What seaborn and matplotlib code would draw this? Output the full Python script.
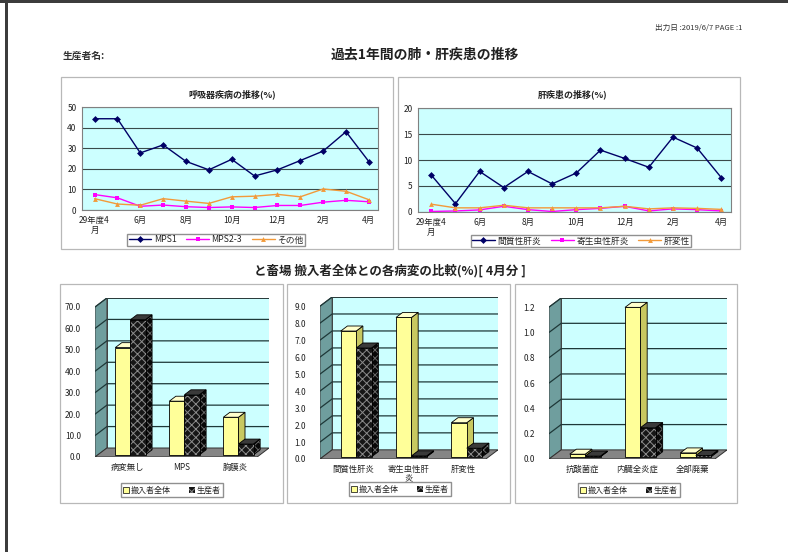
import numpy as np
import pandas as pd
import matplotlib
matplotlib.use('Agg')
import matplotlib.pyplot as plt
import seaborn as sns
from matplotlib.patches import Polygon, Rectangle, Patch
from matplotlib.lines import Line2D

# ---- data ----
MONTHS = ['29年度4\n月', '5月', '6月', '7月', '8月', '9月', '10月',
          '11月', '12月', '1月', '2月', '3月', '4月']

RESP_NAMES = ['MPS1', 'MPS2-3', 'その他']
mps1 = [44.3, 44.3, 27.7, 31.6, 23.6, 19.5, 24.6, 16.5, 19.5, 24.0, 28.6, 38.0, 23.5]
mps23 = [7.5, 5.9, 1.8, 2.4, 1.6, 1.2, 1.5, 1.2, 2.2, 2.2, 3.8, 4.7, 4.0]
other = [5.5, 2.9, 2.3, 5.5, 4.3, 3.2, 6.4, 6.7, 7.6, 6.4, 10.2, 9.1, 5.0]

LIVER_NAMES = ['間質性肝炎', '寄生虫性肝炎', '肝変性']
interstitial = [7.1, 1.6, 7.8, 4.7, 7.8, 5.4, 7.5, 11.9, 10.3, 8.6, 14.4, 12.3, 6.6]
parasitic = [0.1, 0.2, 0.4, 1.1, 0.45, 0.1, 0.45, 0.7, 1.1, 0.2, 0.6, 0.45, 0.2]
degeneration = [1.5, 0.8, 0.8, 1.3, 0.8, 0.8, 0.8, 0.8, 1.1, 0.6, 0.8, 0.7, 0.5]

GROUPS = ['搬入者全体', '生産者']

lung_cats = ['病変無し', 'MPS', '胸膜炎']
lung_all = [50.0, 25.0, 17.5]
lung_prod = [63.0, 28.0, 5.0]

liver_cats = ['間質性肝炎', '寄生虫性肝\n炎', '肝変性']
liver_all = [7.4, 8.2, 2.0]
liver_prod = [6.4, 0.05, 0.5]

misc_cats = ['抗酸菌症', '内臓全炎症', '全部廃棄']
misc_all = [0.02, 1.18, 0.03]
misc_prod = [0.005, 0.23, 0.01]

# ---- style ----
W, H = 788, 552
LINE_COLORS = ['#000066', '#ff00ff', '#f29a3a']
LINE_MARKERS = ['D', 's', '^']
PLOT_BG = '#ccffff'
WALL = '#ccffff'
SIDE = '#6f9e9e'
FLOOR = '#858585'
YELLOW = '#ffff99'
DARK = '#161616'
HATCH_C = '#8c8c8c'

sns.set_style('white')
plt.rcParams['font.family'] = ['Noto Sans CJK JP', 'DejaVu Sans']
plt.rcParams['hatch.linewidth'] = 0.7


def box(x0, y0, x1, y1):
    # pixel box -> figure fraction [left, bottom, width, height]
    return [x0 / W, 1 - y1 / H, (x1 - x0) / W, (y1 - y0) / H]


def fxy(x, y):
    return x / W, 1 - y / H


def frame(fig, x0, y0, x1, y1):
    fig.patches.append(Rectangle((x0 / W, 1 - y1 / H), (x1 - x0) / W, (y1 - y0) / H,
                                 transform=fig.transFigure, fill=False,
                                 ec='#b8b8b8', lw=0.9))


def line_panel(fig, rect, names, values, ymax, step, title, title_xy, legend_xy):
    ax = fig.add_axes(rect)
    n = len(MONTHS)
    df = pd.DataFrame({'pos': np.tile(np.arange(n), len(names)),
                       'series': np.repeat(names, n),
                       'value': np.concatenate(values)})
    sns.lineplot(data=df, x='pos', y='value', hue='series', style='series',
                 hue_order=names, style_order=names, palette=LINE_COLORS,
                 markers=LINE_MARKERS, dashes=False, markersize=3.5,
                 markeredgewidth=0, linewidth=1.0, legend=False, ax=ax)
    ax.set_facecolor(PLOT_BG)
    ax.set_xlim(-0.55, n - 0.6)
    ax.set_ylim(0, ymax)
    ax.set_yticks(np.arange(0, ymax + step / 2, step))
    ax.set_xticks(range(0, n, 2))
    ax.set_xticklabels(MONTHS[::2])
    ax.set_xlabel('')
    ax.set_ylabel('')
    ax.yaxis.grid(True, color='#3a4a4a', lw=0.8)
    ax.xaxis.grid(False)
    for s in ax.spines.values():
        s.set_color('#808080')
        s.set_linewidth(0.8)
    ax.tick_params(axis='both', labelsize=6, length=2, width=0.6, pad=2, colors='#222222')
    fig.text(*fxy(*title_xy), title, ha='center', va='center', fontsize=6.5,
             fontweight='bold', color='#222222')
    handles = [Line2D([], [], color=c, marker=m, markersize=3.5, lw=1, mew=0)
               for c, m in zip(LINE_COLORS, LINE_MARKERS)]
    ax.legend(handles, names, loc='center', bbox_to_anchor=fxy(*legend_xy),
              bbox_transform=fig.transFigure, ncol=3, fontsize=6.3, frameon=True,
              fancybox=False, edgecolor='#909090', framealpha=1, handlelength=2.6,
              handletextpad=0.3, columnspacing=1.1, borderpad=0.15)
    return ax


def bar_panel(fig, rect, cats, v_all, v_prod, ymax, step, fmt, legend_xy):
    ax = fig.add_axes(rect)
    ax.set_facecolor('none')
    n = len(cats)
    dx, dy = 0.22, 0.06 * ymax
    xl, xr = -0.6, n - 0.6
    df = pd.DataFrame({'category': cats * 2,
                       'group': np.repeat(GROUPS, n),
                       'value': list(v_all) + list(v_prod)})
    sns.barplot(data=df, x='category', y='value', hue='group', order=cats,
                hue_order=GROUPS, palette=[YELLOW, DARK], width=0.56,
                saturation=1, errorbar=None, legend=False, ax=ax)
    bars = [p for p in ax.patches if isinstance(p, Rectangle)]
    bdx, bdy = 0.55 * dx, 0.55 * dy
    off_x, off_y = 0.25 * dx, 0.25 * dy
    for i, bar in enumerate(bars):
        dark = i >= n
        z = 3 + (0.5 if dark else 0)
        x0 = bar.get_x() + off_x
        w, h = bar.get_width(), bar.get_height()
        bar.set_x(x0)
        bar.set_y(off_y)
        bar.set_zorder(z + 0.2)
        y0 = off_y
        top = [(x0, y0 + h), (x0 + w, y0 + h), (x0 + w + bdx, y0 + h + bdy), (x0 + bdx, y0 + h + bdy)]
        side = [(x0 + w, y0), (x0 + w + bdx, y0 + bdy), (x0 + w + bdx, y0 + h + bdy), (x0 + w, y0 + h)]
        if dark:
            bar.set_facecolor(DARK)
            bar.set_edgecolor(HATCH_C)
            bar.set_hatch('xxxx')
            bar.set_linewidth(0)
            ax.add_patch(Rectangle((x0, y0), w, h, fill=False, ec='black', lw=0.6, zorder=z + 0.3))
            ax.add_patch(Polygon(side, fc='#080808', ec='#666666', hatch='xxxx', lw=0, zorder=z))
            ax.add_patch(Polygon(side, fill=False, ec='black', lw=0.6, zorder=z + 0.05))
            ax.add_patch(Polygon(top, fc='#3a3a3a', ec='black', lw=0.6, zorder=z))
        else:
            bar.set_edgecolor('black')
            bar.set_linewidth(0.6)
            ax.add_patch(Polygon(side, fc='#c8c860', ec='black', lw=0.6, zorder=z))
            ax.add_patch(Polygon(top, fc='#ffffcc', ec='black', lw=0.6, zorder=z))

    # walls and floor of the 3-D box
    ax.add_patch(Polygon([(xl + dx, dy), (xr + dx, dy), (xr + dx, ymax + dy), (xl + dx, ymax + dy)],
                         fc=WALL, ec='#404040', lw=0.7, zorder=0))
    ax.add_patch(Polygon([(xl, 0), (xl + dx, dy), (xl + dx, ymax + dy), (xl, ymax)],
                         fc=SIDE, ec='#404040', lw=0.7, zorder=0.5))
    ax.add_patch(Polygon([(xl, 0), (xr, 0), (xr + dx, dy), (xl + dx, dy)],
                         fc=FLOOR, ec='#303030', lw=0.7, zorder=0.6))
    ticks = np.arange(0, ymax + step / 2, step)
    for v in ticks[1:]:
        ax.plot([xl, xl + dx, xr + dx], [v, v + dy, v + dy], color='#1e3838', lw=0.9, zorder=0.8)

    ax.set_xlim(xl, xr + dx)
    ax.set_ylim(0, ymax + dy)
    ax.set_yticks(ticks)
    ax.set_yticklabels([fmt.format(v) for v in ticks])
    ax.set_xticks(range(n))
    ax.set_xticklabels(cats)
    ax.set_xlabel('')
    ax.set_ylabel('')
    ax.grid(False)
    for s in ax.spines.values():
        s.set_visible(False)
    ax.tick_params(axis='both', labelsize=6, length=0, colors='#222222')
    ax.tick_params(axis='y', pad=10)
    ax.tick_params(axis='x', pad=4)
    for t in ax.get_xticklabels():
        t.set_linespacing(1.0)

    handles = [Patch(fc=YELLOW, ec='black', lw=0.5),
               Patch(fc=DARK, ec=HATCH_C, hatch='xxxx', lw=0)]
    ax.legend(handles, GROUPS, loc='center', bbox_to_anchor=fxy(*legend_xy),
              bbox_transform=fig.transFigure, ncol=2, fontsize=5.8, frameon=True,
              fancybox=False, edgecolor='#909090', framealpha=1, handlelength=0.7,
              handleheight=0.7, handletextpad=0.25, columnspacing=2.2,
              borderpad=0.25)
    return ax


fig = plt.figure(figsize=(W / 100, H / 100), dpi=100)
fig.patch.set_facecolor('white')

# page edges of the scan
fig.patches.append(Rectangle((0, 1 - 3 / H), 1, 3 / H, transform=fig.transFigure,
                             fc='#3c3c3c', ec='none'))
fig.patches.append(Rectangle((5 / W, 0), 2.5 / W, 1, transform=fig.transFigure,
                             fc='#3c3c3c', ec='none'))

# header texts
fig.text(*fxy(742, 28), '出力日 :2019/6/7 PAGE :1', ha='right', va='center',
         fontsize=5.5, color='#333333')
fig.text(*fxy(63, 56), '生産者名:', ha='left', va='center', fontsize=7,
         fontweight='bold', color='#333333')
fig.text(*fxy(425, 55), '過去1年間の肺・肝疾患の推移', ha='center', va='center',
         fontsize=10, fontweight='bold', color='#222222')
fig.text(*fxy(390, 271), 'と畜場 搬入者全体との各病変の比較(%)[ 4月分 ]', ha='center',
         va='center', fontsize=9, fontweight='bold', color='#222222')

# panel frames
frame(fig, 61, 77, 393, 249)
frame(fig, 398, 77, 740, 249)
frame(fig, 60, 284, 283, 503)
frame(fig, 287, 284, 510, 503)
frame(fig, 515, 284, 737, 503)

line_panel(fig, box(82, 107, 378, 210), RESP_NAMES, [mps1, mps23, other],
           50, 10, '呼吸器疾病の推移(%)', (232, 94), (216, 240))
line_panel(fig, box(418, 108, 731, 212), LIVER_NAMES, [interstitial, parasitic, degeneration],
           20, 5, '肝疾患の推移(%)', (573, 94), (581, 241))

bar_panel(fig, box(95, 298, 269, 457), lung_cats, lung_all, lung_prod,
          70, 10, '{:.1f}', (172, 490))
bar_panel(fig, box(320, 297, 498, 459), liver_cats, liver_all, liver_prod,
          9, 1, '{:.1f}', (400, 489))
bar_panel(fig, box(549, 298, 727, 459), misc_cats, misc_all, misc_prod,
          1.2, 0.2, '{:.1f}', (629, 490))

fig.savefig('out.png', dpi=100, facecolor='white')
